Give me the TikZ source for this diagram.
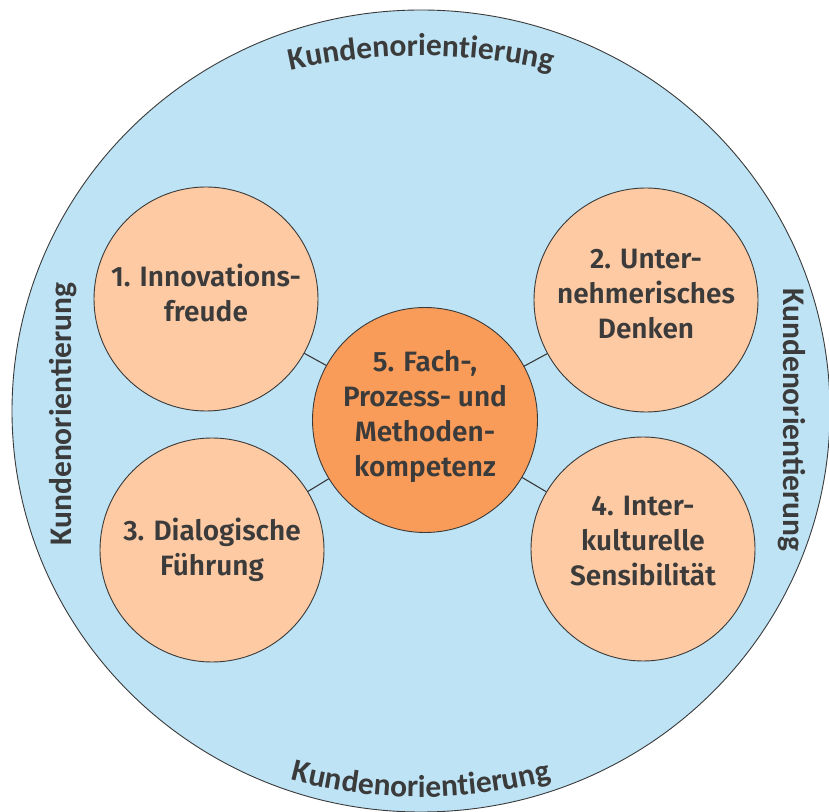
\documentclass[tikz,border=0pt]{standalone}
\usepackage{fontspec}
\setmainfont{Fira Sans}[BoldFont={Fira Sans SemiBold}]
\newfontfamily\outerfont{Carlito}
\usetikzlibrary{decorations.text,shapes.geometric}
\definecolor{outerfill}{HTML}{BDE3F5}
\definecolor{peach}{HTML}{FDCAA3}
\definecolor{orangec}{HTML}{F99C59}
\definecolor{txt}{HTML}{3B3B3B}
\definecolor{edge}{HTML}{3A3A3A}
\tikzset{
  small/.style={circle, draw=edge, line width=0.9pt, fill=peach, minimum size=224pt, inner sep=0pt},
  centre/.style={circle, draw=edge, line width=0.9pt, fill=orangec, minimum size=225pt, inner sep=0pt},
  label text/.style={align=center, text=txt, font=\fontsize{28}{35}\selectfont\bfseries, inner sep=0pt},
  side text/.style={text=txt, font=\outerfont\fontsize{31.5}{33}\selectfont\bfseries, inner sep=0pt},
  link/.style={draw=edge, line width=1.1pt}
}
\begin{document}
\begin{tikzpicture}[x=1pt,y=1pt]
\useasboundingbox (0,0) rectangle (829,811);
% outer ellipse
\node[ellipse, draw=edge, line width=0.9pt, fill=outerfill, minimum width=818pt, minimum height=802pt, inner sep=0pt] (outer) at (421,400) {};
% circles
\node[small] (c1) at (206,512) {};
\node[small] (c2) at (646,511) {};
\node[small] (c3) at (212,261) {};
\node[small] (c4) at (643,262) {};
\node[centre] (c5) at (425,391) {};
% connectors
\path[link] (c1) -- (c5);
\path[link] (c2) -- (c5);
\path[link] (c3) -- (c5);
\path[link] (c4) -- (c5);
% texts
\node[label text] (t1) at (206,518) {1. Innovations-\\freude};
\node[label text] (t2) at (646,517) {2. Unter-\\nehmerisches\\Denken};
\node[label text] (t3) at (212,261) {3. Dialogische\\Führung};
\node[label text] (t4) at (643,270) {4. Inter-\\kulturelle\\Sensibilität};
\node[label text] (t5) at (425,395) {5. Fach-,\\Prozess- und\\Methoden-\\kompetenz};
% outer labels
\path[decorate, decoration={text along path, text align=center, text format delimiters={|}{|},
  text={|\outerfont\fontsize{31.5}{33}\selectfont\bfseries\color{txt}|Kundenorientierung}}]
  (421,155) ++(110:600) arc[start angle=110, end angle=70, radius=600];
\path[decorate, decoration={text along path, text align=center, text format delimiters={|}{|},
  text={|\outerfont\fontsize{31.5}{33}\selectfont\bfseries\color{txt}|Kundenorientierung}}]
  (421,519) ++(250:505) arc[start angle=250, end angle=290, radius=505];
\node[side text, rotate=90, anchor=base] (kl) at (71,397) {Kundenorientierung};
\node[side text, rotate=-90, anchor=base] (kr) at (783,391) {Kundenorientierung};
\end{tikzpicture}
\end{document}
